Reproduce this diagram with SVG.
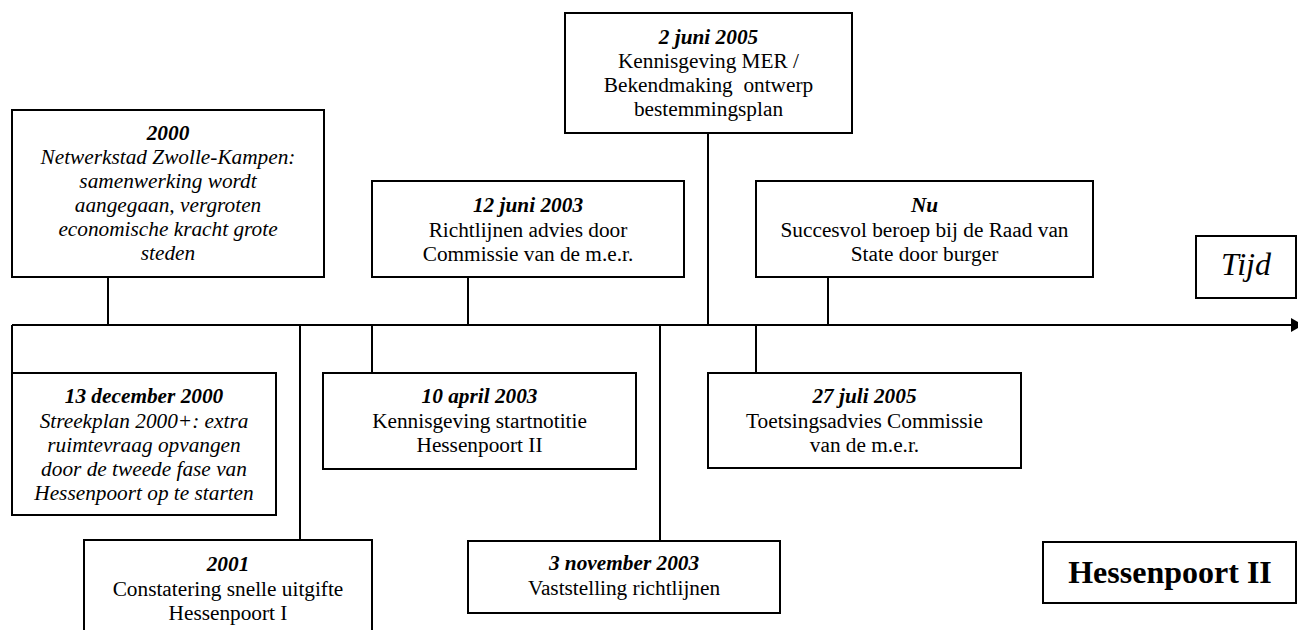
<svg xmlns="http://www.w3.org/2000/svg" width="1298" height="630" viewBox="0 0 1298 630">
  <style>
    .box { fill: #ffffff; stroke: #000000; stroke-width: 2; }
    .line { stroke: #000000; stroke-width: 2; fill: none; }
    text { font-family: "Liberation Serif", "Times New Roman", serif; font-size: 21.3px; fill: #000000; text-anchor: middle; }
    .date { font-weight: bold; font-style: italic; }
    .it { font-style: italic; }
    .big { font-size: 32px; }
  </style>

  <!-- timeline and stems -->
  <g id="connectors">
    <line class="line" x1="12" y1="325" x2="1292" y2="325"/>
    <polygon points="1291,318 1303,325 1291,332" fill="#000000"/>
    <line class="line" x1="108" y1="277" x2="108" y2="325"/>
    <line class="line" x1="12" y1="325" x2="12" y2="373"/>
    <line class="line" x1="300" y1="325" x2="300" y2="540"/>
    <line class="line" x1="372" y1="325" x2="372" y2="373"/>
    <line class="line" x1="468" y1="277" x2="468" y2="325"/>
    <line class="line" x1="660" y1="325" x2="660" y2="541"/>
    <line class="line" x1="708" y1="133" x2="708" y2="325"/>
    <line class="line" x1="756" y1="325" x2="756" y2="373"/>
    <line class="line" x1="828" y1="277" x2="828" y2="325"/>
  </g>

  <g id="node-2000">
    <rect class="box" x="12" y="110" width="312" height="167"/>
    <text x="168" y="140" class="date">2000</text>
    <text x="168" y="164" class="it">Netwerkstad Zwolle-Kampen:</text>
    <text x="168" y="188" class="it">samenwerking wordt</text>
    <text x="168" y="212" class="it">aangegaan, vergroten</text>
    <text x="168" y="236" class="it">economische kracht grote</text>
    <text x="168" y="260" class="it">steden</text>
  </g>

  <g id="node-12-juni-2003">
    <rect class="box" x="372" y="181" width="312" height="96"/>
    <text x="528" y="212" class="date">12 juni 2003</text>
    <text x="528" y="237">Richtlijnen advies door</text>
    <text x="528" y="261">Commissie van de m.e.r.</text>
  </g>

  <g id="node-2-juni-2005">
    <rect class="box" x="565" y="13" width="287" height="120"/>
    <text x="708.5" y="44" class="date">2 juni 2005</text>
    <text x="708.5" y="68">Kennisgeving MER /</text>
    <text x="708.5" y="92">Bekendmaking&#160; ontwerp</text>
    <text x="708.5" y="116">bestemmingsplan</text>
  </g>

  <g id="node-nu">
    <rect class="box" x="756" y="181" width="337" height="96"/>
    <text x="924.5" y="212" class="date">Nu</text>
    <text x="924.5" y="237">Succesvol beroep bij de Raad van</text>
    <text x="924.5" y="261">State door burger</text>
  </g>

  <g id="node-tijd">
    <rect class="box" x="1196" y="236" width="100" height="62"/>
    <text x="1246" y="275" class="it big">Tijd</text>
  </g>

  <g id="node-13-december-2000">
    <rect class="box" x="12" y="373" width="264" height="142"/>
    <text x="144" y="403" class="date">13 december 2000</text>
    <text x="144" y="428" class="it">Streekplan 2000+: extra</text>
    <text x="144" y="452" class="it">ruimtevraag opvangen</text>
    <text x="144" y="476" class="it">door de tweede fase van</text>
    <text x="144" y="500" class="it">Hessenpoort op te starten</text>
  </g>

  <g id="node-10-april-2003">
    <rect class="box" x="323" y="373" width="313" height="96"/>
    <text x="479.5" y="403" class="date">10 april 2003</text>
    <text x="479.5" y="428">Kennisgeving startnotitie</text>
    <text x="479.5" y="452">Hessenpoort II</text>
  </g>

  <g id="node-27-juli-2005">
    <rect class="box" x="708" y="373" width="313" height="95"/>
    <text x="864.5" y="403" class="date">27 juli 2005</text>
    <text x="864.5" y="428">Toetsingsadvies Commissie</text>
    <text x="864.5" y="452">van de m.e.r.</text>
  </g>

  <g id="node-2001">
    <rect class="box" x="84" y="540" width="288" height="110"/>
    <text x="228" y="571" class="date">2001</text>
    <text x="228" y="596">Constatering snelle uitgifte</text>
    <text x="228" y="620">Hessenpoort I</text>
  </g>

  <g id="node-3-november-2003">
    <rect class="box" x="468" y="541" width="312" height="72"/>
    <text x="624" y="570" class="date">3 november 2003</text>
    <text x="624" y="595">Vaststelling richtlijnen</text>
  </g>

  <g id="node-hessenpoort-ii">
    <rect class="box" x="1043" y="542" width="253" height="61"/>
    <text x="1170" y="583" class="big" font-weight="bold">Hessenpoort II</text>
  </g>
</svg>
